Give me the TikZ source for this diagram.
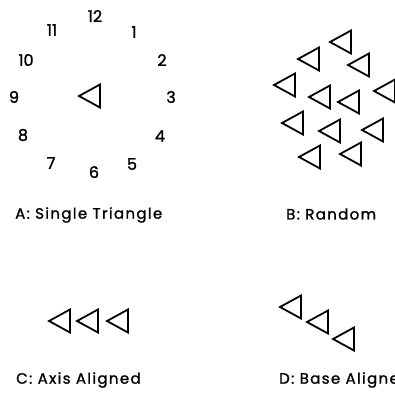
\documentclass[tikz,border=0pt]{standalone}
\usepackage{fontspec}
\setmainfont{Poppins}
\newfontfamily\digfont[FakeBold=1.5]{Poppins}
\newfontfamily\capfont[FakeBold=1.2,LetterSpace=9]{Poppins}
\tikzset{
  tri/.style={draw=black, line width=1.8pt, line join=miter},
  digit/.style={font=\digfont\fontsize{16}{16}\selectfont, inner sep=0pt},
  caption/.style={font=\capfont\fontsize{15}{15}\selectfont, inner sep=0pt, anchor=west}
}
\newcommand{\trib}[2]{\draw[tri] (#1,#2) -- ++(21,-11.5) -- ++(0,23) -- cycle;}
\begin{document}
\begin{tikzpicture}[x=1pt,y=-1pt]
\useasboundingbox (0,0) rectangle (395,392);
% clock digits
\node[digit] (n12) at (95,16) {12};
\node[digit] (n1) at (134,32) {1};
\node[digit] (n2) at (162,60) {2};
\node[digit] (n3) at (171,97) {3};
\node[digit] (n4) at (160,136) {4};
\node[digit] (n5) at (132,164) {5};
\node[digit] (n6) at (94,172) {6};
\node[digit] (n7) at (51,163) {7};
\node[digit] (n8) at (23,135) {8};
\node[digit] (n9) at (14,97) {9};
\node[digit] (n10) at (26,60) {10};
\node[digit] (n11) at (52,30) {11};
% A
\trib{79}{96}
% B random
\trib{330}{42}
\trib{298}{59}
\trib{348}{65}
\trib{274}{85}
\trib{309}{97}
\trib{338}{102}
\trib{374}{91}
\trib{282}{123}
\trib{319}{131}
\trib{362}{130}
\trib{299}{157}
\trib{340}{154}
% C
\trib{49}{321}
\trib{77}{321}
\trib{107}{321}
% D
\trib{280}{307}
\trib{307}{322}
\trib{333}{339}
% captions
\node[caption] (la) at (15,215) {A: Single Triangle};
\node[caption] (lb) at (286,214) {B: Random};
\node[caption] (lc) at (16,380) {C: Axis Aligned};
\node[caption] (ld) at (279,380) {D: Base Aligned};
\end{tikzpicture}
\end{document}
